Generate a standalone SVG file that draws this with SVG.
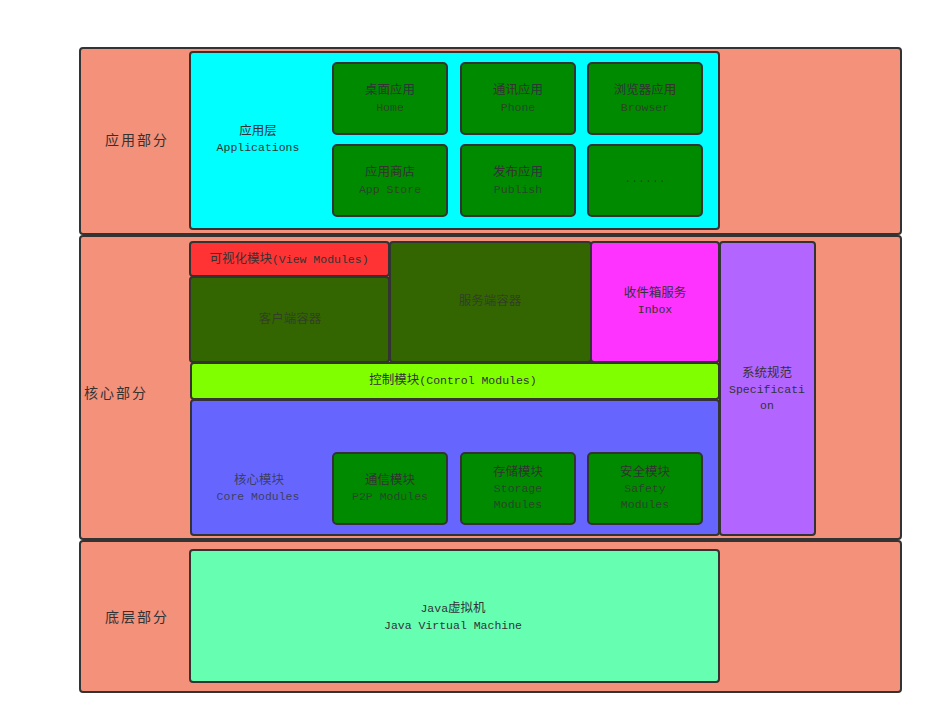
<svg xmlns="http://www.w3.org/2000/svg" width="932" height="725" viewBox="0 0 932 725">
<style>
rect{stroke:#333333;stroke-width:2}
.band{fill:#F4917A}
.g{fill:#008A00}
text{font-family:"Liberation Mono","Noto Sans CJK SC",monospace;font-size:11.5px;fill:#333333;text-anchor:middle}
.zh{font-family:"Noto Sans CJK SC",sans-serif;font-size:12.5px}
.big{font-family:"Noto Sans CJK SC",sans-serif;font-size:14px;letter-spacing:2px}
.dim{fill-opacity:0.8}
</style>
<rect width="932" height="725" fill="#ffffff" style="stroke:none"/>
<g id="app-band"><rect class="band" x="80" y="48" width="821" height="186" rx="3"/><text class="big" x="137" y="145">应用部分</text></g>
<g id="core-band"><rect class="band" x="80" y="236" width="821" height="303" rx="3"/><text class="big" x="116" y="398">核心部分</text></g>
<g id="base-band"><rect class="band" x="80" y="541" width="821" height="151" rx="3"/><text class="big" x="137" y="622">底层部分</text></g>

<g id="applications"><rect x="190" y="52" width="529" height="177" rx="3" fill="#00FFFF"/><text class="zh" x="258" y="135">应用层</text><text x="258" y="151">Applications</text></g>
<g id="home"><rect class="g" x="333" y="63" width="114" height="71" rx="4"/><text class="zh" x="390" y="94">桌面应用</text><text class="dim" x="390" y="111">Home</text></g>
<g id="phone"><rect class="g" x="461" y="63" width="114" height="71" rx="4"/><text class="zh" x="518" y="94">通讯应用</text><text class="dim" x="518" y="111">Phone</text></g>
<g id="browser"><rect class="g" x="588" y="63" width="114" height="71" rx="4"/><text class="zh" x="645" y="94">浏览器应用</text><text class="dim" x="645" y="111">Browser</text></g>
<g id="appstore"><rect class="g" x="333" y="145" width="114" height="71" rx="4"/><text class="zh" x="390" y="176">应用商店</text><text class="dim" x="390" y="193">App Store</text></g>
<g id="publish"><rect class="g" x="461" y="145" width="114" height="71" rx="4"/><text class="zh" x="518" y="176">发布应用</text><text class="dim" x="518" y="193">Publish</text></g>
<g id="more"><rect class="g" x="588" y="145" width="114" height="71" rx="4"/><text class="dim" x="645" y="182">......</text></g>

<g id="view"><rect x="190" y="242" width="199" height="34" rx="3" fill="#FF3333"/><text x="289" y="263"><tspan class="zh">可视化模块</tspan>(View Modules)</text></g>
<g id="client"><rect x="190" y="277" width="199" height="85" rx="3" fill="#336600"/><text class="zh dim" x="290" y="323">客户端容器</text></g>
<g id="server"><rect x="390" y="242" width="201" height="120" rx="3" fill="#336600"/><text class="zh dim" x="490" y="305">服务端容器</text></g>
<g id="inbox"><rect x="591" y="242" width="128" height="120" rx="3" fill="#FF33FF"/><text class="zh" x="655" y="297">收件箱服务</text><text x="655" y="313">Inbox</text></g>
<g id="spec"><rect x="720" y="242" width="95" height="293" rx="3" fill="#B266FF"/><text class="zh" x="767" y="377">系统规范</text><text x="767" y="393">Specificati</text><text x="767" y="409">on</text></g>
<g id="control"><rect x="191" y="363" width="528" height="36" rx="3" fill="#80FF00"/><text x="453" y="384"><tspan class="zh">控制模块</tspan>(Control Modules)</text></g>
<g id="coremod"><rect x="191" y="400" width="528" height="135" rx="3" fill="#6666FF"/><text class="zh dim" x="259" y="484">核心模块</text><text class="dim" x="258" y="500">Core Modules</text></g>
<g id="p2p"><rect class="g" x="333" y="453" width="114" height="71" rx="4"/><text class="zh" x="390" y="484">通信模块</text><text class="dim" x="390" y="500">P2P Modules</text></g>
<g id="storage"><rect class="g" x="461" y="453" width="114" height="71" rx="4"/><text class="zh" x="518" y="476">存储模块</text><text class="dim" x="518" y="492">Storage</text><text class="dim" x="518" y="508">Modules</text></g>
<g id="safety"><rect class="g" x="588" y="453" width="114" height="71" rx="4"/><text class="zh" x="645" y="476">安全模块</text><text class="dim" x="645" y="492">Safety</text><text class="dim" x="645" y="508">Modules</text></g>

<g id="jvm"><rect x="190" y="550" width="529" height="132" rx="3" fill="#66FFB2"/><text x="453" y="612">Java<tspan class="zh">虚拟机</tspan></text><text x="453" y="629">Java Virtual Machine</text></g>
<g id="connectors"></g>
</svg>
